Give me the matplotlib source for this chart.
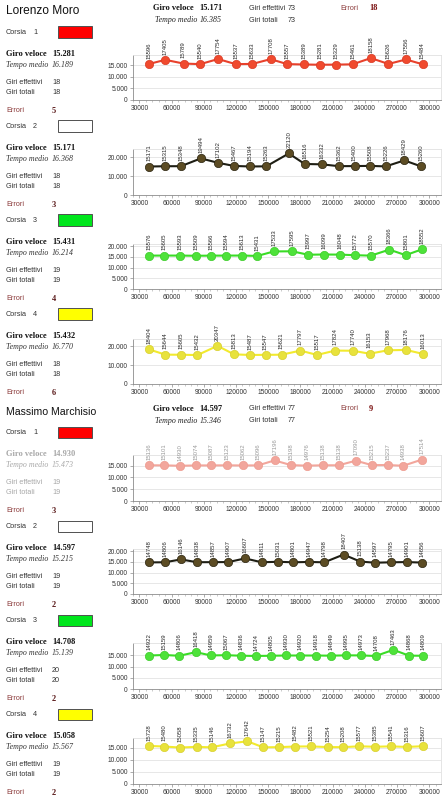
import matplotlib
matplotlib.use('Agg')
import matplotlib.pyplot as plt
from matplotlib.patches import Rectangle
from matplotlib.ticker import FuncFormatter, MultipleLocator

# ---------------- data ----------------
lm_c1_laps = [15596, 17405, 15789, 15540, 17754, 15537, 15633, 17708, 15557, 15389, 15281, 15329, 15461, 18158, 15626, 17556, 15484]
lm_c1_x = [38700, 54100, 71100, 86600, 103300, 119700, 135200, 152200, 167600, 183100, 198000, 213400, 228600, 245600, 262000, 278400, 293800]
lm_c2_laps = [15171, 15315, 15348, 19494, 17102, 15467, 15194, 15263, 22120, 16516, 16332, 15362, 15400, 15508, 15226, 18429, 15260]
lm_c2_x = [39300, 53800, 68700, 87200, 103600, 118200, 133000, 148200, 169200, 184000, 200100, 215600, 230400, 245000, 259500, 276800, 292300]
lm_c3_laps = [15576, 15605, 15593, 15509, 15566, 15594, 15613, 15431, 17533, 17595, 15997, 16099, 16048, 15772, 15570, 18366, 15801, 18552]
lm_c3_x = [39300, 53200, 68000, 82600, 96500, 111000, 125900, 139800, 155300, 172300, 187100, 201700, 216500, 231000, 245600, 262900, 278100, 293500]
lm_c4_laps = [18404, 15644, 15605, 15432, 20347, 15813, 15487, 15547, 15621, 17797, 15517, 17824, 17740, 16153, 17968, 18176, 16013]
lm_c4_x = [39300, 54100, 68700, 84100, 102700, 118200, 133000, 147500, 162400, 180000, 195500, 212500, 228900, 244400, 261400, 278400, 294500]

mm_c1_laps = [15136, 15101, 14930, 15074, 15087, 15123, 15062, 15096, 17196, 15198, 14976, 15138, 15138, 17090, 15215, 15237, 14938, 17514]
mm_c1_x = [38700, 53200, 68000, 82600, 97100, 111400, 126200, 140400, 155900, 171400, 186200, 200700, 215600, 231700, 246500, 261400, 275900, 292900]
mm_c2_laps = [14748, 14806, 16146, 14838, 14857, 14907, 16607, 14811, 15031, 14801, 14947, 14798, 18407, 15138, 14597, 14795, 14901, 14656]
mm_c2_x = [39300, 53800, 68700, 83500, 98700, 112900, 128400, 143800, 159000, 173200, 187700, 202300, 220200, 235700, 249600, 264100, 279000, 293500]
mm_c3_laps = [14922, 15159, 14806, 16418, 14959, 15067, 14836, 14724, 14805, 14930, 14920, 14918, 14849, 14995, 14973, 14708, 17463, 14868, 14809]
mm_c3_x = [39300, 53200, 67100, 82600, 96500, 110400, 124300, 138300, 152200, 166700, 180000, 194600, 208500, 222700, 236300, 250200, 266600, 281200, 294500]
mm_c4_laps = [15728, 15480, 15058, 15335, 15146, 16732, 17642, 15147, 15215, 15482, 15521, 15254, 15208, 15577, 15385, 15541, 15316, 15607]
mm_c4_x = [38700, 53200, 67700, 83200, 97400, 114100, 130500, 145400, 159900, 174800, 189900, 205400, 219600, 234800, 249600, 264100, 279000, 294500]

drivers = ["Lorenzo Moro", "Massimo Marchisio"]
driver_giro = ["15.171", "14.597"]
driver_medio = ["16.385", "15.346"]
driver_eff = ["73", "77"]
driver_tot = ["73", "77"]
driver_err = ["18", "9"]

lane_giro = [["15.281", "15.171", "15.431", "15.432"], ["14.930", "14.597", "14.708", "15.058"]]
lane_medio = [["16.189", "16.368", "16.214", "16.770"], ["15.473", "15.215", "15.139", "15.567"]]
lane_eff = [["18", "18", "19", "18"], ["19", "19", "20", "19"]]
lane_tot = [["18", "18", "19", "18"], ["19", "19", "20", "19"]]
lane_err = [["5", "3", "4", "6"], ["3", "2", "2", "2"]]

x_ticks = [30000, 60000, 90000, 120000, 150000, 180000, 210000, 240000, 270000, 300000]

# ---------------- layout / style ----------------
W, H = 448, 800
fig = plt.figure(figsize=(W / 100, H / 100), dpi=100)
fig.patch.set_facecolor('white')

def fx(x):
    return x / W

def fy(y):
    return 1 - y / H

SANS = ['Liberation Sans', 'DejaVu Sans']
SERIF = ['Liberation Serif', 'DejaVu Serif']
ERR_C = '#8B3A3A'

def txt(x, y, s, size=5.0, family=SANS, **kw):
    fig.text(fx(x), fy(y), s, va='center', ha='left', fontsize=size, family=family, **kw)

lane_box_colors = ['#FF0000', '#FFFFFF', '#00E61C', '#FFFF00']
series_styles = [
    dict(line='#E8412C', marker='#F04A2E', edge='#D83A25', lab='#2A2A2A'),
    dict(line='#1E1E14', marker='#5C4C24', edge='#2A2410', lab='#2A2A2A'),
    dict(line='#3ADC26', marker='#4EE23A', edge='#3CCB2A', lab='#2A2A2A'),
    dict(line='#F2EA2E', marker='#E8E23C', edge='#D8D030', lab='#2A2A2A'),
]
pink_style = dict(line='#F2A69C', marker='#F2A69C', edge='#EE9C90', lab='#999999')

panels = [
    # (laps, x, style, ymax, ystep, ytop_label, top, bottom)
    (lm_c1_laps, lm_c1_x, series_styles[0], 19500, 5000, 15000, 55, 100),
    (lm_c2_laps, lm_c2_x, series_styles[1], 24500, 10000, 20000, 149, 195),
    (lm_c3_laps, lm_c3_x, series_styles[2], 21000, 5000, 20000, 244, 289),
    (lm_c4_laps, lm_c4_x, series_styles[3], 24000, 10000, 20000, 339, 384),
    (mm_c1_laps, mm_c1_x, pink_style, 19500, 5000, 15000, 455, 501),
    (mm_c2_laps, mm_c2_x, series_styles[1], 21000, 5000, 20000, 549, 594),
    (mm_c3_laps, mm_c3_x, series_styles[2], 20500, 5000, 15000, 643, 689),
    (mm_c4_laps, mm_c4_x, series_styles[3], 19000, 5000, 15000, 738, 784),
]

fmt_y = FuncFormatter(lambda v, p: f"{int(v):,}".replace(",", "."))

for laps, xs, st, ymax, ystep, ytop, top, bottom in panels:
    ax = fig.add_axes([fx(133), fy(bottom), (441 - 133) / W, (bottom - top) / H])
    ax.plot(xs, laps, color=st['line'], lw=1.5, marker='o', ms=6,
            mfc=st['marker'], mec=st['edge'], mew=0.5, zorder=3, clip_on=False)
    for xv, yv in zip(xs, laps):
        ax.annotate(str(yv), (xv, yv), xytext=(0, 3.8), textcoords='offset points',
                    rotation=90, ha='center', va='bottom', fontsize=4.3,
                    color=st['lab'], annotation_clip=False, family=SANS)
    ax.set_xlim(24000, 311000)
    ax.set_ylim(0, ymax)
    ax.set_xticks(x_ticks)
    ax.set_xticklabels([str(t) for t in x_ticks])
    ax.xaxis.set_minor_locator(MultipleLocator(6000))
    ax.set_yticks(list(range(0, ytop + 1, ystep)))
    ax.yaxis.set_major_formatter(fmt_y)
    ax.grid(axis='y', color='#E3E3E3', lw=0.6)
    ax.set_axisbelow(True)
    for s in ['top', 'right']:
        ax.spines[s].set_color('#E0E0E0')
        ax.spines[s].set_linewidth(0.6)
    for s in ['left', 'bottom']:
        ax.spines[s].set_color('#8C8C8C')
        ax.spines[s].set_linewidth(0.6)
    ax.tick_params(axis='both', which='major', labelsize=4.8, length=2.2, width=0.5,
                   color='#8C8C8C', pad=1.5, labelcolor='#333333')
    ax.tick_params(axis='x', which='minor', length=1.3, width=0.4, color='#A0A0A0')
    for lab in ax.get_xticklabels() + ax.get_yticklabels():
        lab.set_family(SANS)

# ---------------- text blocks ----------------
header_y = [8, 409]
lane_y0 = [[32, 126, 220, 314], [432, 526, 620, 714]]
header_size = [8.6, 7.6]
BOLD_SZ = 6.0
ITAL_SZ = 5.7
SANS_SZ = 5.2

for d in range(2):
    hy = header_y[d]
    txt(6, hy + 3, drivers[d], size=header_size[d], color='#111111')
    txt(153, hy, "Giro veloce", size=BOLD_SZ, family=SERIF, weight='bold', color='#111111')
    txt(199, hy, driver_giro[d], size=BOLD_SZ, family=SERIF, weight='bold', color='#111111')
    txt(155, hy + 12, "Tempo medio", size=ITAL_SZ, family=SERIF, style='italic', color='#222222')
    txt(200, hy + 12, driver_medio[d], size=ITAL_SZ, family=SERIF, style='italic', color='#222222')
    txt(249, hy, "Giri effettivi", size=SANS_SZ, color='#333333')
    txt(288, hy, driver_eff[d], size=SANS_SZ, color='#333333')
    txt(249, hy + 12, "Giri totali", size=SANS_SZ, color='#333333')
    txt(288, hy + 12, driver_tot[d], size=SANS_SZ, color='#333333')
    txt(340, hy, "Errori", size=SANS_SZ, color=ERR_C)
    txt(369, hy, driver_err[d], size=BOLD_SZ, family=SERIF, weight='bold', color='#7A1010')

    for k in range(4):
        y0 = lane_y0[d][k]
        faded = (d == 1 and k == 0)
        main_c = '#A8A8A8' if faded else '#111111'
        sub_c = '#A8A8A8' if faded else '#333333'
        txt(6, y0, "Corsia", size=SANS_SZ, color='#333333')
        txt(33, y0, str(k + 1), size=SANS_SZ, color='#333333')
        fig.patches.append(Rectangle((fx(57.5), fy(y0 + 5.5)), 34 / W, 11 / H,
                                     transform=fig.transFigure, facecolor=lane_box_colors[k],
                                     edgecolor='#505050', lw=0.7))
        txt(6, y0 + 22, "Giro veloce", size=BOLD_SZ, family=SERIF, weight='bold', color=main_c)
        txt(52, y0 + 22, lane_giro[d][k], size=BOLD_SZ, family=SERIF, weight='bold', color=main_c)
        txt(6, y0 + 33, "Tempo medio", size=ITAL_SZ, family=SERIF, style='italic', color=sub_c)
        txt(52, y0 + 33, lane_medio[d][k], size=ITAL_SZ, family=SERIF, style='italic', color=sub_c)
        txt(6, y0 + 50, "Giri effettivi", size=SANS_SZ, color=sub_c)
        txt(52, y0 + 50, lane_eff[d][k], size=SANS_SZ, color=sub_c)
        txt(6, y0 + 61, "Giri totali", size=SANS_SZ, color=sub_c)
        txt(52, y0 + 61, lane_tot[d][k], size=SANS_SZ, color=sub_c)
        txt(6, y0 + 79, "Errori", size=SANS_SZ, color=ERR_C)
        txt(52, y0 + 79, lane_err[d][k], size=BOLD_SZ, family=SERIF, weight='bold', color='#5A1A1A')

fig.savefig('out.png', dpi=100, facecolor='white')
